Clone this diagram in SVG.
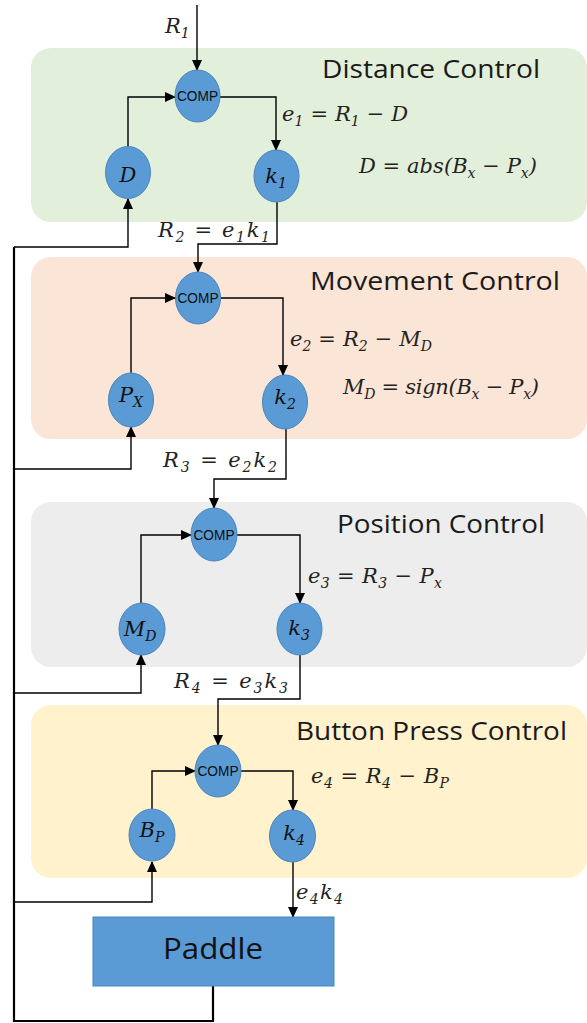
<svg xmlns="http://www.w3.org/2000/svg" width="587" height="1023" viewBox="0 0 587 1023">
<defs>
<marker id="arr" markerUnits="userSpaceOnUse" markerWidth="11" markerHeight="10" refX="10" refY="5" orient="auto">
<path d="M0,0 L11,5 L0,10 z" fill="#000"/>
</marker>
<style>
.panel{stroke:none}
.title{font-family:"Open Sans","Liberation Sans",sans-serif;font-size:25px;fill:#1a1a1a}
.node{fill:#5b9bd5;stroke:#4a84bd;stroke-width:1}
.comp{font-family:"Liberation Sans",Arial,sans-serif;font-size:14px;fill:#0d0d0d;text-anchor:middle}
.nl{font-family:"DejaVu Serif","Liberation Serif",serif;font-style:italic;font-size:21px;fill:#111;text-anchor:middle}
.m{font-family:"DejaVu Serif","Liberation Serif",serif;font-style:italic;font-size:21px;fill:#222}
.s{font-size:14px}
.c{fill:none;stroke:#000;stroke-width:1.4}
.fb{fill:none;stroke:#000;stroke-width:2.2}
</style>
</defs>
<rect width="587" height="1023" fill="#fff"/>
<g id="panels">
<rect class="panel" x="31" y="48" width="556" height="174" rx="20" fill="#e2efda"/>
<rect class="panel" x="31" y="257" width="556" height="182" rx="20" fill="#fbe5d6"/>
<rect class="panel" x="31" y="502" width="556" height="165" rx="20" fill="#ededed"/>
<rect class="panel" x="31" y="705" width="556" height="173" rx="20" fill="#fff2cc"/>
<text class="title" x="322" y="78" textLength="218" lengthAdjust="spacingAndGlyphs">Distance Control</text>
<text class="title" x="310" y="290" textLength="250" lengthAdjust="spacingAndGlyphs">Movement Control</text>
<text class="title" x="337" y="533" textLength="208" lengthAdjust="spacingAndGlyphs">Position Control</text>
<text class="title" x="296" y="740" textLength="271" lengthAdjust="spacingAndGlyphs">Button Press Control</text>
</g>
<g id="connectors">
<path class="c" d="M197,5 V70" marker-end="url(#arr)"/>
<path class="c" d="M128,147 V97 H175" marker-end="url(#arr)"/>
<path class="c" d="M220,97 H276 V150" marker-end="url(#arr)"/>
<path class="c" d="M277,202 V244 H198 V272" marker-end="url(#arr)"/>
<path class="c" d="M14,247 H128 V199" marker-end="url(#arr)"/>
<path class="c" d="M131,373 V298 H175" marker-end="url(#arr)"/>
<path class="c" d="M221,298 H283 V375" marker-end="url(#arr)"/>
<path class="c" d="M286,428 V479 H214 V508" marker-end="url(#arr)"/>
<path class="c" d="M14,469 H131 V427" marker-end="url(#arr)"/>
<path class="c" d="M141,603 V535 H191" marker-end="url(#arr)"/>
<path class="c" d="M237,535 H300 V603" marker-end="url(#arr)"/>
<path class="c" d="M300,655 V699 H218 V745" marker-end="url(#arr)"/>
<path class="c" d="M14,693 H141 V655" marker-end="url(#arr)"/>
<path class="c" d="M152,809 V771 H195" marker-end="url(#arr)"/>
<path class="c" d="M241,771 H293 V810" marker-end="url(#arr)"/>
<path class="c" d="M293,862 V917" marker-end="url(#arr)"/>
<path class="c" d="M14,902 H152 V862" marker-end="url(#arr)"/>
<path class="fb" d="M213,986 V1021 H14 V247"/>
</g>
<g id="labels">
<text class="m" x="165" y="33">R<tspan class="s" dy="5">1</tspan></text>
<text class="m" x="282" y="121" textLength="126">e<tspan class="s" dy="5">1</tspan><tspan dy="-5"> = R</tspan><tspan class="s" dy="5">1</tspan><tspan dy="-5"> − D</tspan></text>
<text class="m" x="359" y="173" textLength="178">D = abs(B<tspan class="s" dy="5">x</tspan><tspan dy="-5"> − P</tspan><tspan class="s" dy="5">x</tspan><tspan dy="-5">)</tspan></text>
<text class="m" x="158" y="237" textLength="112">R<tspan class="s" dy="5">2</tspan><tspan dy="-5"> =  e</tspan><tspan class="s" dy="5">1</tspan><tspan dy="-5">k</tspan><tspan class="s" dy="5">1</tspan></text>
<text class="m" x="290" y="346" textLength="142">e<tspan class="s" dy="5">2</tspan><tspan dy="-5"> = R</tspan><tspan class="s" dy="5">2</tspan><tspan dy="-5"> − M</tspan><tspan class="s" dy="5">D</tspan></text>
<text class="m" x="343" y="394" textLength="196">M<tspan class="s" dy="5">D</tspan><tspan dy="-5"> = sign(B</tspan><tspan class="s" dy="5">x</tspan><tspan dy="-5"> − P</tspan><tspan class="s" dy="5">x</tspan><tspan dy="-5">)</tspan></text>
<text class="m" x="163" y="467" textLength="114">R<tspan class="s" dy="5">3</tspan><tspan dy="-5"> =  e</tspan><tspan class="s" dy="5">2</tspan><tspan dy="-5">k</tspan><tspan class="s" dy="5">2</tspan></text>
<text class="m" x="308" y="583" textLength="134">e<tspan class="s" dy="5">3</tspan><tspan dy="-5"> = R</tspan><tspan class="s" dy="5">3</tspan><tspan dy="-5"> − P</tspan><tspan class="s" dy="5">x</tspan></text>
<text class="m" x="174" y="688" textLength="114">R<tspan class="s" dy="5">4</tspan><tspan dy="-5"> =  e</tspan><tspan class="s" dy="5">3</tspan><tspan dy="-5">k</tspan><tspan class="s" dy="5">3</tspan></text>
<text class="m" x="311" y="783" textLength="138">e<tspan class="s" dy="5">4</tspan><tspan dy="-5"> = R</tspan><tspan class="s" dy="5">4</tspan><tspan dy="-5"> − B</tspan><tspan class="s" dy="5">P</tspan></text>
<text class="m" x="296" y="899" textLength="47">e<tspan class="s" dy="5">4</tspan><tspan dy="-5">k</tspan><tspan class="s" dy="5">4</tspan></text>
</g>
<g id="comp1"><ellipse class="node" cx="197.5" cy="96" rx="22.5" ry="26"/><text class="comp" x="197.5" y="101" textLength="41" lengthAdjust="spacingAndGlyphs">COMP</text></g>
<g id="D"><ellipse class="node" cx="128" cy="172.5" rx="22.5" ry="26"/><text class="nl" x="128" y="182">D</text></g>
<g id="k1"><ellipse class="node" cx="276.5" cy="176" rx="22.5" ry="26"/><text class="nl" x="276" y="183">k<tspan class="s" dy="5">1</tspan></text></g>
<g id="comp2"><ellipse class="node" cx="198" cy="298" rx="22.5" ry="26"/><text class="comp" x="198" y="303" textLength="41" lengthAdjust="spacingAndGlyphs">COMP</text></g>
<g id="Px"><ellipse class="node" cx="131" cy="400" rx="22.5" ry="27"/><text class="nl" x="131" y="402">P<tspan class="s" dy="5">X</tspan></text></g>
<g id="k2"><ellipse class="node" cx="285" cy="402" rx="22.5" ry="27"/><text class="nl" x="285" y="404">k<tspan class="s" dy="5">2</tspan></text></g>
<g id="comp3"><ellipse class="node" cx="214" cy="534.5" rx="23" ry="26.5"/><text class="comp" x="214" y="540" textLength="41" lengthAdjust="spacingAndGlyphs">COMP</text></g>
<g id="MD"><ellipse class="node" cx="142" cy="629" rx="23" ry="26"/><text class="nl" x="140" y="636">M<tspan class="s" dy="5">D</tspan></text></g>
<g id="k3"><ellipse class="node" cx="299.5" cy="629" rx="22.5" ry="26"/><text class="nl" x="299" y="635">k<tspan class="s" dy="5">3</tspan></text></g>
<g id="comp4"><ellipse class="node" cx="218" cy="771" rx="23" ry="26"/><text class="comp" x="218" y="776" textLength="41" lengthAdjust="spacingAndGlyphs">COMP</text></g>
<g id="BP"><ellipse class="node" cx="152" cy="835" rx="23" ry="26"/><text class="nl" x="152" y="837">B<tspan class="s" dy="5">P</tspan></text></g>
<g id="k4"><ellipse class="node" cx="292.5" cy="836" rx="23" ry="26"/><text class="nl" x="294" y="840">k<tspan class="s" dy="5">4</tspan></text></g>
<g id="paddle"><rect x="93" y="917" width="241" height="69" fill="#5b9bd5" stroke="#4a84bd" stroke-width="1"/><text x="213" y="959" font-family="'Open Sans','Liberation Sans',sans-serif" font-size="30" fill="#111" text-anchor="middle" textLength="100" lengthAdjust="spacingAndGlyphs">Paddle</text></g>
</svg>
